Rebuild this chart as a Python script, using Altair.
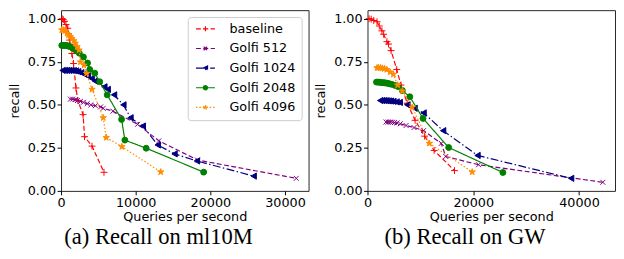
import altair as alt
import pandas as pd

# ---------------- data ----------------
SERIES = ["baseline", "Golfi 512", "Golfi 1024", "Golfi 2048", "Golfi 4096"]
COLORS = ["#ff0000", "#800080", "#000080", "#008000", "#ff8c00"]

# (a) ml10M
baseline_a_x = [150, 300, 480, 660, 900, 1010, 1150, 1450, 1670, 2000, 2250, 2950, 3150, 4150, 5750]
baseline_a_y = [1.0, 0.995, 0.985, 0.967, 0.945, 0.912, 0.876, 0.798, 0.74, 0.598, 0.525, 0.443, 0.315, 0.26, 0.108]
g512_a_x = [1250, 1550, 1900, 2200, 2600, 3000, 3500, 4000, 4600, 5300, 5650, 6950, 10250, 13100, 18300, 31500]
g512_a_y = [0.533, 0.533, 0.53, 0.525, 0.52, 0.515, 0.507, 0.50, 0.495, 0.488, 0.48, 0.463, 0.387, 0.291, 0.179, 0.073]
g1024_a_x = [200, 500, 800, 1100, 1400, 1700, 2000, 2300, 2700, 3100, 3600, 4100, 4550, 5800, 6250, 7100, 8350, 9300, 10950, 12950, 15200, 18200, 25800]
g1024_a_y = [0.70, 0.70, 0.70, 0.70, 0.70, 0.699, 0.697, 0.693, 0.687, 0.678, 0.667, 0.653, 0.638, 0.605, 0.59, 0.558, 0.50, 0.425, 0.377, 0.267, 0.215, 0.174, 0.086]
g2048_a_x = [100, 300, 500, 700, 900, 1100, 1300, 1550, 1800, 2050, 2450, 3000, 3550, 3850, 4520, 5180, 6180, 8110, 8550, 11400, 19100]
g2048_a_y = [0.845, 0.845, 0.845, 0.845, 0.843, 0.84, 0.836, 0.83, 0.824, 0.814, 0.80, 0.778, 0.743, 0.705, 0.684, 0.634, 0.558, 0.415, 0.295, 0.248, 0.109]
g4096_a_x = [100, 300, 500, 800, 1000, 1250, 1450, 1700, 1900, 2150, 2420, 2600, 3070, 3420, 4150, 5650, 6050, 8150, 13350]
g4096_a_y = [0.935, 0.935, 0.93, 0.915, 0.905, 0.895, 0.885, 0.872, 0.858, 0.838, 0.818, 0.749, 0.73, 0.682, 0.59, 0.425, 0.31, 0.257, 0.11]

# (b) GW
baseline_b_x = [300, 700, 1180, 1800, 2230, 2730, 3050, 3670, 3980, 4460, 5530, 6340, 7500, 9000, 10800, 12600, 16450]
baseline_b_y = [1.0, 0.998, 0.99, 0.983, 0.958, 0.93, 0.91, 0.867, 0.853, 0.815, 0.705, 0.615, 0.51, 0.41, 0.318, 0.235, 0.118]
g512_b_x = [3500, 3900, 4300, 4700, 5100, 5600, 6200, 7300, 8800, 10600, 13950, 14800, 21000, 44500]
g512_b_y = [0.40, 0.40, 0.40, 0.399, 0.397, 0.395, 0.39, 0.38, 0.368, 0.35, 0.276, 0.2, 0.152, 0.05]
g1024_b_x = [2400, 2800, 3200, 3600, 4000, 4400, 4900, 5500, 6100, 7550, 8900, 10600, 14300, 20800, 38500]
g1024_b_y = [0.525, 0.525, 0.525, 0.524, 0.523, 0.522, 0.52, 0.517, 0.514, 0.50, 0.48, 0.453, 0.35, 0.206, 0.073]
g2048_b_x = [1700, 2000, 2300, 2600, 2900, 3200, 3500, 3800, 4200, 4600, 5200, 5800, 6600, 8000, 10500, 15350, 25600]
g2048_b_y = [0.632, 0.632, 0.631, 0.63, 0.629, 0.628, 0.627, 0.625, 0.622, 0.619, 0.613, 0.606, 0.583, 0.547, 0.421, 0.252, 0.107]
g4096_b_x = [1800, 2100, 2450, 2800, 3200, 3650, 4300, 4900, 5700, 6600, 8450, 11700, 19800]
g4096_b_y = [0.715, 0.716, 0.715, 0.713, 0.71, 0.705, 0.69, 0.677, 0.615, 0.58, 0.486, 0.276, 0.11]

Y_TICKS = [0, 0.25, 0.5, 0.75, 1.0]
X_TICKS_A = [0, 10000, 20000, 30000]
X_TICKS_B = [0, 20000, 40000]
CAPTION_A = "(a) Recall on ml10M"
CAPTION_B = "(b) Recall on GW"


def table(xs, ys):
    rows = []
    for name, xv, yv in zip(SERIES, xs, ys):
        for i, (a, b) in enumerate(zip(xv, yv)):
            rows.append({"series": name, "qps": a, "recall": b, "idx": i})
    return pd.DataFrame(rows)


df_a = table([baseline_a_x, g512_a_x, g1024_a_x, g2048_a_x, g4096_a_x],
             [baseline_a_y, g512_a_y, g1024_a_y, g2048_a_y, g4096_a_y])
df_b = table([baseline_b_x, g512_b_x, g1024_b_x, g2048_b_x, g4096_b_x],
             [baseline_b_y, g512_b_y, g1024_b_y, g2048_b_y, g4096_b_y])

# ---------------- styles ----------------
DASHES = [[5, 2.5], [5, 2.5], [8, 2.5, 1.5, 2.5], [1, 0], [1.5, 2]]


def poly(points, s, close=True):
    d = "M" + "L".join(f"{x*s:.3f},{y*s:.3f}" for x, y in points)
    return d + ("Z" if close else "")


STAR_PTS = [(0, -1), (0.223, -0.307), (0.951, -0.309), (0.361, 0.117), (0.588, 0.809),
            (0, 0.38), (-0.588, 0.809), (-0.361, 0.117), (-0.951, -0.309), (-0.223, -0.307)]


def marker_path(kind, s):
    if kind == "plus":
        return poly([(-1, 0), (1, 0)], s, False) + poly([(0, -1), (0, 1)], s, False)
    if kind == "x":
        return poly([(-1, -1), (1, 1)], s, False) + poly([(-1, 1), (1, -1)], s, False)
    if kind == "tri":
        return poly([(-1, 0), (1, -1), (1, 1)], s)
    if kind == "circle":
        return (f"M{s:.3f},0A{s:.3f},{s:.3f} 0 1,1 {-s:.3f},0"
                f"A{s:.3f},{s:.3f} 0 1,1 {s:.3f},0Z")
    return poly(STAR_PTS, s)


KINDS = ["plus", "x", "tri", "circle", "star"]
MARKERS = [marker_path("plus", 1), marker_path("x", 1), "triangle-left", "circle", marker_path("star", 1)]
SIZES = [49, 25, 40, 36, 46]

LEG_SIZE = 196  # 14px nominal symbol -> 7px per unit
LEG_SCALE = [0.5, 0.36, 0.43, 0.43, 0.48]
LEG_PATHS = ["M-1.93,0L1.93,0" + marker_path(k, m) for k, m in zip(KINDS, LEG_SCALE)]

FONT = "DejaVu Sans"


def panel(df, xmax, xticks, caption, show_legend):
    base = alt.Chart(df)
    x = alt.X("qps:Q", scale=alt.Scale(domain=[0, xmax], nice=False, zero=False),
              axis=alt.Axis(values=xticks, format="d", title="Queries per second",
                            labelFlush=False, titlePadding=1))
    y = alt.Y("recall:Q", scale=alt.Scale(domain=[0, 1.05], nice=False),
              axis=alt.Axis(values=Y_TICKS, format=".2f", title="recall",
                            titlePadding=6, labelPadding=1.5))
    layers = []
    for i, name in enumerate(SERIES):
        sub = base.transform_filter(alt.datum.series == name)
        layers.append(sub.mark_line(color=COLORS[i], strokeDash=DASHES[i], strokeWidth=1.2)
                      .encode(x=x, y=y, order="idx:Q"))
        layers.append(sub.mark_point(shape=MARKERS[i], size=SIZES[i], filled=True,
                                     fill=COLORS[i], stroke=COLORS[i], strokeWidth=1, opacity=1)
                      .encode(x=x, y=y))
    if show_legend:
        leg = alt.Legend(title=None, orient="top-right", offset=7, padding=5.5, rowPadding=6,
                         symbolOffset=6, labelOffset=18, labelFont=FONT, labelFontSize=13,
                         labelColor="#000", strokeColor="#cccccc", cornerRadius=3,
                         fillColor="rgba(255,255,255,0.85)", symbolStrokeWidth=1.2)
        layers.append(
            base.transform_filter("false")
            .mark_point(filled=True, size=LEG_SIZE, strokeWidth=1.2, opacity=1)
            .encode(
                x=x, y=y,
                color=alt.Color("series:N", scale=alt.Scale(domain=SERIES, range=COLORS), legend=leg),
                stroke=alt.Stroke("series:N", scale=alt.Scale(domain=SERIES, range=COLORS), legend=leg),
                shape=alt.Shape("series:N", scale=alt.Scale(domain=SERIES, range=LEG_PATHS), legend=leg),
                strokeDash=alt.StrokeDash("series:N", scale=alt.Scale(domain=SERIES, range=DASHES), legend=leg),
            )
        )
    return alt.layer(*layers).properties(
        width=252, height=184,
        title=alt.TitleParams(caption, orient="bottom", anchor="middle", frame="bounds",
                              font="Liberation Serif", fontSize=23, fontWeight="normal",
                              color="#000", offset=3),
    )


left = panel(df_a, 33150, X_TICKS_A, CAPTION_A, True)
right = panel(df_b, 46800, X_TICKS_B, CAPTION_B, False)

chart = (
    alt.hconcat(left, right, spacing=5)
    .resolve_scale(x="independent", y="independent", color="independent",
                   stroke="independent", shape="independent", strokeDash="independent")
    .resolve_legend(color="independent", stroke="independent", shape="independent",
                    strokeDash="independent")
    .properties(padding={"left": 0, "top": -1, "right": 0, "bottom": 0}, background="white")
    .configure_view(stroke="#262626", strokeWidth=1)
    .configure_axis(labelFont=FONT, labelFontSize=13, titleFont=FONT, titleFontSize=13,
                    titleFontWeight="normal", labelColor="#000", titleColor="#000",
                    tickColor="#000", tickSize=4, domain=False, grid=False,
                    labelPadding=2)
)

chart.save("out.html", embed_options={"renderer": "svg", "actions": False})
